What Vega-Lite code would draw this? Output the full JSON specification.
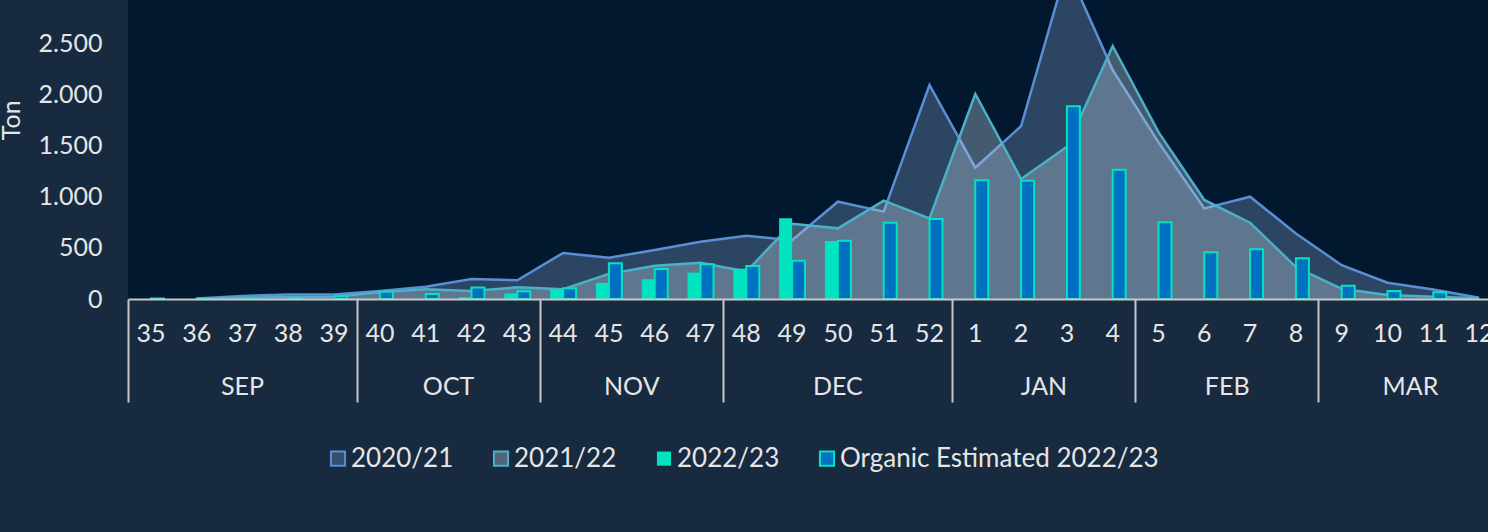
{
  "$schema": "https://vega.github.io/schema/vega-lite/v6.json",
  "autosize": {"type": "none"},
  "padding": {"left": 128, "top": -59.4, "right": -14, "bottom": 233},
  "width": 1374,
  "height": 358.4,
  "background": "#172a40",
  "data": {"values": [
    {"week": "36", "series": "2020/21", "value": 5},
    {"week": "37", "series": "2020/21", "value": 30},
    {"week": "38", "series": "2020/21", "value": 45},
    {"week": "39", "series": "2020/21", "value": 45},
    {"week": "40", "series": "2020/21", "value": 78},
    {"week": "41", "series": "2020/21", "value": 120},
    {"week": "42", "series": "2020/21", "value": 195},
    {"week": "43", "series": "2020/21", "value": 183},
    {"week": "44", "series": "2020/21", "value": 450},
    {"week": "45", "series": "2020/21", "value": 403},
    {"week": "46", "series": "2020/21", "value": 478},
    {"week": "47", "series": "2020/21", "value": 560},
    {"week": "48", "series": "2020/21", "value": 617},
    {"week": "49", "series": "2020/21", "value": 575},
    {"week": "50", "series": "2020/21", "value": 950},
    {"week": "51", "series": "2020/21", "value": 853},
    {"week": "52", "series": "2020/21", "value": 2090},
    {"week": "1", "series": "2020/21", "value": 1282},
    {"week": "2", "series": "2020/21", "value": 1689},
    {"week": "3", "series": "2020/21", "value": 3240},
    {"week": "4", "series": "2020/21", "value": 2236},
    {"week": "5", "series": "2020/21", "value": 1530},
    {"week": "6", "series": "2020/21", "value": 885},
    {"week": "7", "series": "2020/21", "value": 999},
    {"week": "8", "series": "2020/21", "value": 640},
    {"week": "9", "series": "2020/21", "value": 330},
    {"week": "10", "series": "2020/21", "value": 159},
    {"week": "11", "series": "2020/21", "value": 92},
    {"week": "12", "series": "2020/21", "value": 12},
    {"week": "36", "series": "2021/22", "value": 3},
    {"week": "37", "series": "2021/22", "value": 12},
    {"week": "38", "series": "2021/22", "value": 20},
    {"week": "39", "series": "2021/22", "value": 22},
    {"week": "40", "series": "2021/22", "value": 65},
    {"week": "41", "series": "2021/22", "value": 95},
    {"week": "42", "series": "2021/22", "value": 78},
    {"week": "43", "series": "2021/22", "value": 114},
    {"week": "44", "series": "2021/22", "value": 95},
    {"week": "45", "series": "2021/22", "value": 245},
    {"week": "46", "series": "2021/22", "value": 325},
    {"week": "47", "series": "2021/22", "value": 355},
    {"week": "48", "series": "2021/22", "value": 268},
    {"week": "49", "series": "2021/22", "value": 735},
    {"week": "50", "series": "2021/22", "value": 690},
    {"week": "51", "series": "2021/22", "value": 960},
    {"week": "52", "series": "2021/22", "value": 788},
    {"week": "1", "series": "2021/22", "value": 2002},
    {"week": "2", "series": "2021/22", "value": 1172},
    {"week": "3", "series": "2021/22", "value": 1487},
    {"week": "4", "series": "2021/22", "value": 2471},
    {"week": "5", "series": "2021/22", "value": 1630},
    {"week": "6", "series": "2021/22", "value": 967},
    {"week": "7", "series": "2021/22", "value": 745},
    {"week": "8", "series": "2021/22", "value": 312},
    {"week": "9", "series": "2021/22", "value": 100},
    {"week": "10", "series": "2021/22", "value": 39},
    {"week": "11", "series": "2021/22", "value": 23},
    {"week": "12", "series": "2021/22", "value": 8},
    {"week": "42", "series": "2022/23", "value": 17},
    {"week": "43", "series": "2022/23", "value": 54},
    {"week": "44", "series": "2022/23", "value": 97},
    {"week": "45", "series": "2022/23", "value": 158},
    {"week": "46", "series": "2022/23", "value": 193},
    {"week": "47", "series": "2022/23", "value": 257},
    {"week": "48", "series": "2022/23", "value": 296},
    {"week": "49", "series": "2022/23", "value": 788},
    {"week": "50", "series": "2022/23", "value": 566},
    {"week": "35", "series": "Organic Estimated 2022/23", "value": 5},
    {"week": "36", "series": "Organic Estimated 2022/23", "value": 2},
    {"week": "37", "series": "Organic Estimated 2022/23", "value": 4},
    {"week": "38", "series": "Organic Estimated 2022/23", "value": 10},
    {"week": "39", "series": "Organic Estimated 2022/23", "value": 28},
    {"week": "40", "series": "Organic Estimated 2022/23", "value": 71},
    {"week": "41", "series": "Organic Estimated 2022/23", "value": 50},
    {"week": "42", "series": "Organic Estimated 2022/23", "value": 112},
    {"week": "43", "series": "Organic Estimated 2022/23", "value": 76},
    {"week": "44", "series": "Organic Estimated 2022/23", "value": 105},
    {"week": "45", "series": "Organic Estimated 2022/23", "value": 348},
    {"week": "46", "series": "Organic Estimated 2022/23", "value": 293},
    {"week": "47", "series": "Organic Estimated 2022/23", "value": 339},
    {"week": "48", "series": "Organic Estimated 2022/23", "value": 323},
    {"week": "49", "series": "Organic Estimated 2022/23", "value": 373},
    {"week": "50", "series": "Organic Estimated 2022/23", "value": 569},
    {"week": "51", "series": "Organic Estimated 2022/23", "value": 745},
    {"week": "52", "series": "Organic Estimated 2022/23", "value": 781},
    {"week": "1", "series": "Organic Estimated 2022/23", "value": 1159},
    {"week": "2", "series": "Organic Estimated 2022/23", "value": 1155},
    {"week": "3", "series": "Organic Estimated 2022/23", "value": 1882},
    {"week": "4", "series": "Organic Estimated 2022/23", "value": 1263},
    {"week": "5", "series": "Organic Estimated 2022/23", "value": 749},
    {"week": "6", "series": "Organic Estimated 2022/23", "value": 456},
    {"week": "7", "series": "Organic Estimated 2022/23", "value": 485},
    {"week": "8", "series": "Organic Estimated 2022/23", "value": 398},
    {"week": "9", "series": "Organic Estimated 2022/23", "value": 130},
    {"week": "10", "series": "Organic Estimated 2022/23", "value": 77},
    {"week": "11", "series": "Organic Estimated 2022/23", "value": 65}
  ]},
  "resolve": {"axis": {"x": "independent"}},
  "layer": [
    {
      "transform": [{"filter": "datum.series == '2020/21'"}],
      "mark": {"type": "area", "interpolate": "linear"},
      "encoding": {
        "x": {"field": "week", "type": "ordinal",
          "scale": {"type": "band", "paddingInner": 0, "paddingOuter": 0, "domain": ["35","36","37","38","39","40","41","42","43","44","45","46","47","48","49","50","51","52","1","2","3","4","5","6","7","8","9","10","11","12"]},
          "axis": {"orient": "bottom", "title": null, "ticks": false, "domain": true, "domainColor": "#c8c8c8", "domainWidth": 2, "labelPadding": 22.5, "labelAngle": 0, "labelOverlap": false, "zindex": 1}},
        "y": {"field": "value", "type": "quantitative", "title": "Ton", "scale": {"domain": [0, 3500], "nice": false}},
        "fill": {"field": "series", "type": "nominal", "title": null,
          "scale": {"domain": ["2020/21", "2021/22", "2022/23", "Organic Estimated 2022/23"], "range": ["rgba(84,114,150,0.5)", "rgba(185,207,224,0.36)", "#00e4c2", "#0070c0"]}}
      }
    },
    {
      "transform": [{"filter": "datum.series == '2020/21'"}],
      "mark": {"type": "line", "interpolate": "linear", "strokeWidth": 2.5},
      "encoding": {
        "x": {"field": "week", "type": "ordinal",
          "axis": {"orient": "bottom", "title": null, "values": ["35","40","44","48","1","5","9"], "bandPosition": 0, "domain": false, "ticks": true, "tickSize": 103, "tickColor": "#c8c8c8", "tickWidth": 2, "labelPadding": -28, "labelAngle": 0, "labelOverlap": false, "zindex": 1,
            "labelExpr": "{'35':'SEP','40':'OCT','44':'NOV','48':'DEC','1':'JAN','5':'FEB','9':'MAR'}[datum.value]",
            "labelOffset": {"condition": {"test": "datum.value == '35' || datum.value == '48'", "value": 91.6}, "value": 68.7}}},
        "y": {"field": "value", "type": "quantitative", "title": "Ton"},
        "stroke": {"field": "series", "type": "nominal", "title": null,
          "scale": {"domain": ["2020/21", "2021/22", "2022/23", "Organic Estimated 2022/23"], "range": ["#5a8fd5", "#4bb0c9", "rgba(0,0,0,0)", "#00e4c2"]}}
      }
    },
    {
      "transform": [{"filter": "datum.series == '2021/22'"}],
      "mark": {"type": "area", "interpolate": "linear"},
      "encoding": {
        "x": {"field": "week", "type": "ordinal", "axis": null},
        "y": {"field": "value", "type": "quantitative", "title": "Ton"},
        "fill": {"field": "series", "type": "nominal", "title": null}
      }
    },
    {
      "transform": [{"filter": "datum.series == '2021/22'"}],
      "mark": {"type": "line", "interpolate": "linear", "strokeWidth": 2.5},
      "encoding": {
        "x": {"field": "week", "type": "ordinal", "axis": null},
        "y": {"field": "value", "type": "quantitative", "title": "Ton"},
        "stroke": {"field": "series", "type": "nominal", "title": null}
      }
    },
    {
      "transform": [{"filter": "datum.series == '2022/23' || datum.series == 'Organic Estimated 2022/23'"}],
      "mark": {"type": "bar", "strokeWidth": 2},
      "encoding": {
        "x": {"field": "week", "type": "ordinal", "axis": null},
        "xOffset": {"field": "series", "type": "nominal", "scale": {"domain": ["2022/23", "Organic Estimated 2022/23"], "paddingInner": 0, "paddingOuter": 0.7615}},
        "y": {"field": "value", "type": "quantitative", "title": "Ton"},
        "fill": {"field": "series", "type": "nominal", "title": null},
        "stroke": {"field": "series", "type": "nominal", "title": null}
      }
    }
  ],
  "config": {
    "font": "Lato",
    "view": {"fill": "#02182e", "stroke": null},
    "axis": {"labelFont": "Lato", "labelFontSize": 25, "labelColor": "#e6e6e6", "titleFont": "Lato", "titleFontSize": 25, "titleFontWeight": "normal", "titleColor": "#e6e6e6", "grid": false},
    "axisY": {"domain": false, "ticks": false, "labelPadding": 26, "titlePadding": 14, "values": [0, 500, 1000, 1500, 2000, 2500, 3000, 3500], "labelExpr": "replace(format(datum.value, ','), ',', '.')"},
    "legend": {"orient": "none", "legendX": 197, "legendY": 505, "direction": "horizontal", "columns": 4, "symbolType": "square", "symbolSize": 200, "symbolStrokeWidth": 2, "symbolOpacity": 1, "labelFont": "Lato", "labelFontSize": 26, "labelColor": "#e6e6e6", "labelOffset": 0, "columnPadding": 34, "labelLimit": 600}
  }
}
